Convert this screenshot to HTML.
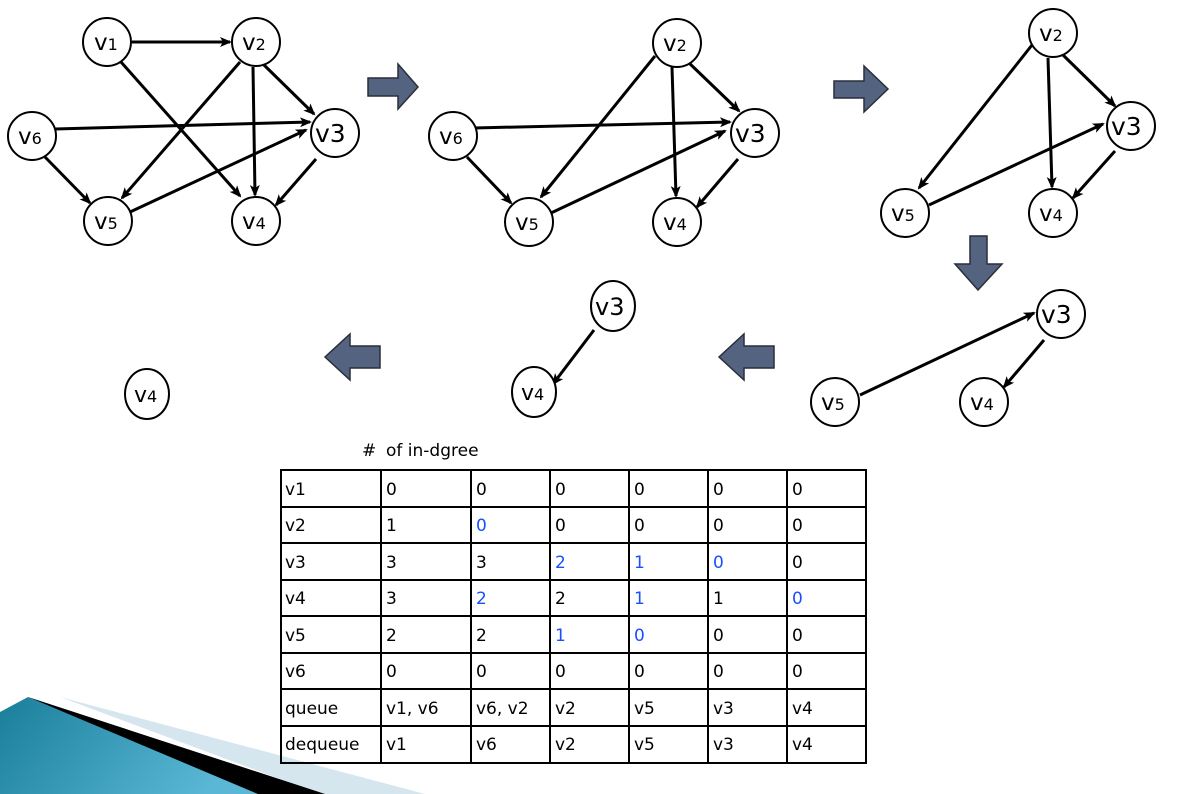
<!DOCTYPE html>
<html><head><style>
body{margin:0;background:#fff;}
svg{display:block}
text{font-family:"DejaVu Sans","Liberation Sans",sans-serif;}
.n{fill:#fff;stroke:#000;stroke-width:2}
.e{stroke:#000;stroke-width:3;marker-end:url(#ah)}
.t{font-family:"DejaVu Sans","Liberation Sans",sans-serif;font-size:17px}
</style></head><body>
<svg width="1190" height="794" viewBox="0 0 1190 794" xmlns="http://www.w3.org/2000/svg">
<defs>
<marker id="ah" markerWidth="12" markerHeight="10" refX="10" refY="5" orient="auto" markerUnits="userSpaceOnUse" viewBox="0 0 12 10"><path d="M0,0 L12,5 L0,10 L3,5 Z" fill="#000"/></marker>
<linearGradient id="tg" x1="0" y1="0" x2="1" y2="0.3"><stop offset="0" stop-color="#1a7e9a"/><stop offset="1" stop-color="#5ab8d6"/></linearGradient>
</defs>
<!-- decoration -->
<polygon points="60,697 425,794 320,794" fill="#d6e6ee"/>
<polygon points="0,712 28,697 262,794 0,794" fill="url(#tg)"/>
<polygon points="28,697 325,794 258,794" fill="#000"/>

<!-- block arrows -->
<g fill="#536380" stroke="#2a2f3a" stroke-width="1.5">
<polygon points="368,78 398,78 398,64 418,87 398,109 398,96 368,96"/>
<polygon points="834,81 864,81 864,66 888,89 864,112 864,98 834,98"/>
<polygon points="970,236 987,236 987,264 1002,264 978,290 955,264 970,264"/>
<polygon points="380,346 350,346 350,334 325,357 350,380 350,368 380,368"/>
<polygon points="774,346 744,346 744,334 719,357 744,380 744,368 774,368"/>
</g>

<g fill="none">
<line class="e" x1="132" y1="42" x2="230" y2="42"/>
<line class="e" x1="121" y1="62" x2="240" y2="196"/>
<line class="e" x1="240" y1="62" x2="122" y2="198"/>
<line class="e" x1="253" y1="67" x2="255" y2="195"/>
<line class="e" x1="264" y1="65" x2="314" y2="114"/>
<line class="e" x1="55" y1="129" x2="310" y2="122"/>
<line class="e" x1="45" y1="157" x2="90" y2="203"/>
<line class="e" x1="130" y1="212" x2="306" y2="130"/>
<line class="e" x1="316" y1="159" x2="276" y2="205"/>

<line class="e" x1="655" y1="56" x2="541" y2="197"/>
<line class="e" x1="672" y1="67" x2="676" y2="196"/>
<line class="e" x1="687" y1="61" x2="739" y2="111"/>
<line class="e" x1="474" y1="128" x2="730" y2="122"/>
<line class="e" x1="467" y1="157" x2="511" y2="203"/>
<line class="e" x1="551" y1="213" x2="725" y2="131"/>
<line class="e" x1="738" y1="159" x2="697" y2="207"/>

<line class="e" x1="1032" y1="45" x2="919" y2="188"/>
<line class="e" x1="1048" y1="58" x2="1052" y2="187"/>
<line class="e" x1="1063" y1="55" x2="1115" y2="106"/>
<line class="e" x1="929" y1="205" x2="1103" y2="124"/>
<line class="e" x1="1115" y1="151" x2="1073" y2="198"/>

<line class="e" x1="860" y1="395" x2="1034" y2="313"/>
<line class="e" x1="1044" y1="340" x2="1004" y2="387"/>

<line class="e" x1="594" y1="330" x2="553" y2="384"/>
</g>

<!-- nodes -->
<g>
<circle class="n" cx="107" cy="42" r="24"/><text x="94" y="50" font-size="23">v<tspan font-size="16">1</tspan></text>
<circle class="n" cx="256" cy="42" r="24"/><text x="242" y="50" font-size="23">v<tspan font-size="16">2</tspan></text>
<circle class="n" cx="32" cy="136" r="24"/><text x="18" y="144" font-size="23">v<tspan font-size="16">6</tspan></text>
<circle class="n" cx="335" cy="133" r="24"/><text x="315" y="142" font-size="25">v3</text>
<circle class="n" cx="108" cy="221" r="24"/><text x="94" y="229" font-size="23">v<tspan font-size="16">5</tspan></text>
<circle class="n" cx="256" cy="221" r="24"/><text x="242" y="229" font-size="23">v<tspan font-size="16">4</tspan></text>

<circle class="n" cx="677" cy="43" r="24"/><text x="663" y="51" font-size="23">v<tspan font-size="16">2</tspan></text>
<circle class="n" cx="453" cy="136" r="24"/><text x="439" y="144" font-size="23">v<tspan font-size="16">6</tspan></text>
<circle class="n" cx="755" cy="133" r="24"/><text x="735" y="142" font-size="25">v3</text>
<circle class="n" cx="529" cy="222" r="24"/><text x="515" y="230" font-size="23">v<tspan font-size="16">5</tspan></text>
<circle class="n" cx="677" cy="222" r="24"/><text x="663" y="230" font-size="23">v<tspan font-size="16">4</tspan></text>

<circle class="n" cx="1053" cy="33" r="24"/><text x="1039" y="41" font-size="23">v<tspan font-size="16">2</tspan></text>
<circle class="n" cx="1131" cy="126" r="24"/><text x="1111" y="135" font-size="25">v3</text>
<circle class="n" cx="905" cy="213" r="24"/><text x="891" y="221" font-size="23">v<tspan font-size="16">5</tspan></text>
<circle class="n" cx="1053" cy="213" r="24"/><text x="1039" y="221" font-size="23">v<tspan font-size="16">4</tspan></text>

<circle class="n" cx="1061" cy="314" r="24"/><text x="1041" y="323" font-size="25">v3</text>
<circle class="n" cx="835" cy="402" r="24"/><text x="821" y="410" font-size="23">v<tspan font-size="16">5</tspan></text>
<circle class="n" cx="984" cy="402" r="24"/><text x="970" y="410" font-size="23">v<tspan font-size="16">4</tspan></text>

<ellipse class="n" cx="613" cy="306" rx="22" ry="25"/><text x="595" y="315" font-size="24">v3</text>
<ellipse class="n" cx="534" cy="392" rx="22" ry="25"/><text x="521" y="400" font-size="22">v<tspan font-size="16">4</tspan></text>
<ellipse class="n" cx="147" cy="394" rx="22" ry="25"/><text x="134" y="402" font-size="22">v<tspan font-size="16">4</tspan></text>
</g>

<!-- table -->
<text x="362" y="456" class="t">#</text><text x="386" y="456" class="t">of in-dgree</text>
<g stroke="#000" stroke-width="2" fill="none">
<rect x="281" y="470" width="585" height="293"/>
<line x1="381" y1="470" x2="381" y2="763"/>
<line x1="471" y1="470" x2="471" y2="763"/>
<line x1="550" y1="470" x2="550" y2="763"/>
<line x1="629" y1="470" x2="629" y2="763"/>
<line x1="708" y1="470" x2="708" y2="763"/>
<line x1="787" y1="470" x2="787" y2="763"/>
<line x1="281" y1="507" x2="866" y2="507"/>
<line x1="281" y1="543" x2="866" y2="543"/>
<line x1="281" y1="580" x2="866" y2="580"/>
<line x1="281" y1="616" x2="866" y2="616"/>
<line x1="281" y1="653" x2="866" y2="653"/>
<line x1="281" y1="689" x2="866" y2="689"/>
<line x1="281" y1="726" x2="866" y2="726"/>
</g>
<g class="t">
<text x="285" y="495">v1</text><text x="386" y="495">0</text><text x="476" y="495">0</text><text x="555" y="495">0</text><text x="634" y="495">0</text><text x="713" y="495">0</text><text x="792" y="495">0</text>
<text x="285" y="531">v2</text><text x="386" y="531">1</text><text x="476" y="531" fill="#1a4fff">0</text><text x="555" y="531">0</text><text x="634" y="531">0</text><text x="713" y="531">0</text><text x="792" y="531">0</text>
<text x="285" y="568">v3</text><text x="386" y="568">3</text><text x="476" y="568">3</text><text x="555" y="568" fill="#1a4fff">2</text><text x="634" y="568" fill="#1a4fff">1</text><text x="713" y="568" fill="#1a4fff">0</text><text x="792" y="568">0</text>
<text x="285" y="604">v4</text><text x="386" y="604">3</text><text x="476" y="604" fill="#1a4fff">2</text><text x="555" y="604">2</text><text x="634" y="604" fill="#1a4fff">1</text><text x="713" y="604">1</text><text x="792" y="604" fill="#1a4fff">0</text>
<text x="285" y="641">v5</text><text x="386" y="641">2</text><text x="476" y="641">2</text><text x="555" y="641" fill="#1a4fff">1</text><text x="634" y="641" fill="#1a4fff">0</text><text x="713" y="641">0</text><text x="792" y="641">0</text>
<text x="285" y="677">v6</text><text x="386" y="677">0</text><text x="476" y="677">0</text><text x="555" y="677">0</text><text x="634" y="677">0</text><text x="713" y="677">0</text><text x="792" y="677">0</text>
<text x="285" y="714">queue</text><text x="386" y="714">v1, v6</text><text x="476" y="714">v6, v2</text><text x="555" y="714">v2</text><text x="634" y="714">v5</text><text x="713" y="714">v3</text><text x="792" y="714">v4</text>
<text x="285" y="750">dequeue</text><text x="386" y="750">v1</text><text x="476" y="750">v6</text><text x="555" y="750">v2</text><text x="634" y="750">v5</text><text x="713" y="750">v3</text><text x="792" y="750">v4</text>
</g>
</svg>
</body></html>
